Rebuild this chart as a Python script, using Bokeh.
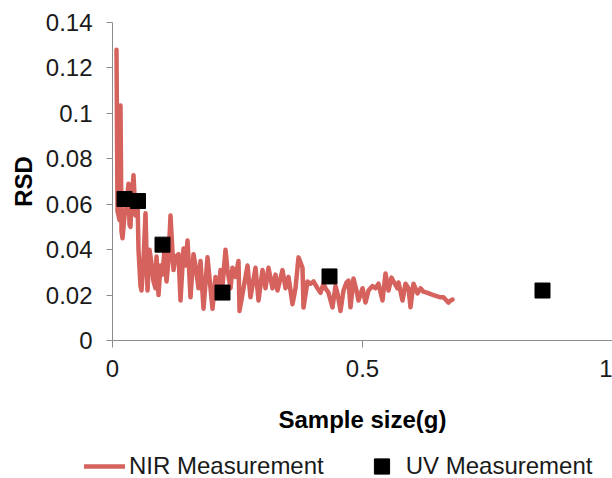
from bokeh.plotting import figure
from bokeh.models import Range1d, FixedTicker, Legend, LegendItem
from bokeh.embed import file_html
from bokeh.resources import INLINE

# NIR measurement (sample size in g, RSD)
nir_x = [0.008, 0.010, 0.014, 0.016, 0.018, 0.020, 0.024, 0.028, 0.032, 0.034,
         0.036, 0.038, 0.042, 0.046, 0.050, 0.052, 0.056, 0.058, 0.062, 0.066,
         0.070, 0.074, 0.078, 0.082, 0.086, 0.088, 0.092, 0.096, 0.100, 0.104,
         0.108, 0.112, 0.116, 0.122, 0.126, 0.132, 0.136, 0.142, 0.146, 0.150,
         0.152, 0.156, 0.162, 0.166, 0.172, 0.176, 0.182, 0.190, 0.196, 0.200,
         0.206, 0.212, 0.216, 0.220, 0.226, 0.230, 0.236, 0.240, 0.246, 0.252,
         0.254, 0.262, 0.270, 0.276, 0.286, 0.292, 0.300, 0.306, 0.312, 0.320,
         0.326, 0.330, 0.340, 0.346, 0.352, 0.360, 0.366, 0.372, 0.380, 0.382,
         0.390, 0.396, 0.402, 0.410, 0.416, 0.422, 0.426, 0.432, 0.440, 0.446,
         0.450, 0.456, 0.462, 0.468, 0.472, 0.476, 0.482, 0.488, 0.492, 0.500,
         0.506, 0.512, 0.520, 0.526, 0.532, 0.540, 0.546, 0.552, 0.558, 0.562,
         0.570, 0.572, 0.580, 0.586, 0.592, 0.596, 0.602, 0.610, 0.616, 0.622,
         0.630, 0.642, 0.650, 0.656, 0.662, 0.668, 0.672, 0.676, 0.680]
nir_y = [0.128, 0.057, 0.053, 0.1035, 0.048, 0.045, 0.055, 0.059, 0.069, 0.051,
         0.050, 0.062, 0.0727, 0.055, 0.062, 0.040, 0.024, 0.022, 0.035, 0.056,
         0.022, 0.040, 0.034, 0.026, 0.023, 0.037, 0.020, 0.033, 0.029, 0.040,
         0.026, 0.035, 0.055, 0.031, 0.037, 0.038, 0.0176, 0.0405, 0.033, 0.044,
         0.036, 0.019, 0.038, 0.033, 0.023, 0.035, 0.014, 0.0366, 0.023, 0.014,
         0.028, 0.020, 0.031, 0.024, 0.040, 0.031, 0.023, 0.032, 0.028, 0.035,
         0.013, 0.023, 0.033, 0.019, 0.032, 0.0176, 0.031, 0.023, 0.032, 0.023,
         0.029, 0.022, 0.031, 0.023, 0.028, 0.016, 0.023, 0.0366, 0.032, 0.0145,
         0.026, 0.025, 0.026, 0.023, 0.021, 0.025, 0.023, 0.021, 0.0146, 0.024,
         0.0207, 0.013, 0.022, 0.0255, 0.0264, 0.0146, 0.0273, 0.022, 0.0176, 0.023,
         0.0167, 0.022, 0.024, 0.023, 0.025, 0.0176, 0.0295, 0.022, 0.0277, 0.026,
         0.023, 0.0255, 0.0176, 0.025, 0.023, 0.0146, 0.025, 0.0207, 0.023, 0.0215,
         0.021, 0.020, 0.0194, 0.019, 0.019, 0.0176, 0.0167, 0.0176, 0.018]

# UV measurement
uv_x = [0.024, 0.051, 0.100, 0.220, 0.434, 0.860]
uv_y = [0.0623, 0.0614, 0.0422, 0.0211, 0.0282, 0.0220]

x_ticks = [0, 0.5, 1]
x_tick_labels = ["0", "0.5", "1"]
y_ticks = [0, 0.02, 0.04, 0.06, 0.08, 0.10, 0.12, 0.14]
y_tick_labels = ["0", "0.02", "0.04", "0.06", "0.08", "0.1", "0.12", "0.14"]

FONT = "Liberation Sans"
LINE_COLOR = "#d5625c"
AXIS_COLOR = "#8c8c8c"

# Layout: the frame fills the whole canvas; axes are pinned at data zero.
W, H = 612, 478
X0_PX, XSCALE = 112, 500.0          # px of x=0, px per unit
Y0_PX, Y_TOP_PX, Y_MAX = 340, 22, 0.14
YSCALE = (Y0_PX - Y_TOP_PX) / Y_MAX
x_start = -X0_PX / XSCALE
x_end = (W - X0_PX) / XSCALE
y_end = Y_MAX + Y_TOP_PX / YSCALE
y_start = -(H - Y0_PX) / YSCALE

p = figure(width=W, height=H, output_backend="svg", toolbar_location=None,
           x_range=Range1d(x_start, x_end), y_range=Range1d(y_start, y_end),
           min_border_left=0, min_border_top=0, min_border_right=0,
           min_border_bottom=0)
p.outline_line_color = None
p.grid.visible = False
p.background_fill_color = "white"
p.border_fill_color = "white"

nir = p.line(nir_x, nir_y, line_color=LINE_COLOR, line_width=4.5,
             line_join="round", line_cap="round")
uv = p.scatter(uv_x, uv_y, marker="square", size=15, fill_color="black",
               line_color="black")

for ax in (p.xaxis[0], p.yaxis[0]):
    ax.fixed_location = 0
    ax.axis_line_color = AXIS_COLOR
    ax.major_tick_line_color = AXIS_COLOR
    ax.minor_tick_line_color = None
    ax.major_tick_in = 0
    ax.major_label_text_font = FONT
    ax.major_label_text_font_size = "24px"
    ax.major_label_text_color = "#1a1a1a"
    ax.axis_label_text_font = FONT
    ax.axis_label_text_font_size = "24px"
    ax.axis_label_text_font_style = "bold"
    ax.axis_label_text_color = "#000000"

p.xaxis[0].bounds = (0, 1)
p.xaxis[0].ticker = FixedTicker(ticks=x_ticks)
p.xaxis[0].major_label_overrides = dict(zip(x_ticks, x_tick_labels))
p.xaxis[0].major_tick_out = 7
p.xaxis[0].major_label_standoff = 12
p.xaxis[0].axis_label = "Sample size(g)"
p.xaxis[0].axis_label_standoff = 26

p.yaxis[0].bounds = (0, Y_MAX)
p.yaxis[0].ticker = FixedTicker(ticks=y_ticks)
p.yaxis[0].major_label_overrides = dict(zip(y_ticks, y_tick_labels))
p.yaxis[0].major_tick_out = 6
p.yaxis[0].major_label_standoff = 14
p.yaxis[0].axis_label = "RSD"
p.yaxis[0].axis_label_standoff = 6

legend = Legend(items=[LegendItem(label="NIR Measurement", renderers=[nir]),
                       LegendItem(label="UV Measurement", renderers=[uv])],
                location=(84, -7), orientation="horizontal",
                glyph_width=41, glyph_height=38, label_height=38,
                label_standoff=4, spacing=37, padding=0, margin=0,
                border_line_alpha=0, background_fill_alpha=0,
                label_text_font=FONT, label_text_font_size="24px",
                label_text_color="#1a1a1a")
p.add_layout(legend, "center")

open("out.html", "w").write(file_html(p, INLINE))
